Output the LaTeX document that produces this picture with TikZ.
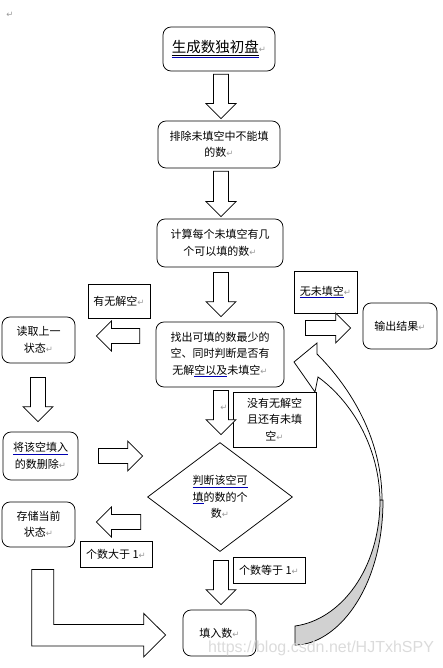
\documentclass[tikz,border=0pt]{standalone}
\usepackage{fontspec}
\setmainfont{Noto Sans CJK SC}
\newfontfamily\retfont{DejaVu Sans}
\newfontfamily\wmfont{Liberation Sans}
\usetikzlibrary{calc,shapes.geometric}

% Word paragraph mark and blue check line
\newcommand{\retmark}{{\retfont\fontsize{8.5}{8.5}\selectfont\textcolor{black!40}{↵}}}
\newcommand{\chk}[1]{\textcolor{blue!70!black}{\underline{\textcolor{black}{#1}}}}

% hollow block arrow from tail #1 to tip #2
\newcommand{\fatarrow}[2]{%
  \coordinate (fa-t) at #1;
  \coordinate (fa-p) at #2;
  \coordinate (fa-h) at ($(fa-p)!15pt!(fa-t)$);
  \filldraw[blockarrow] ($(fa-t)!7.5pt!90:(fa-p)$) -- ($(fa-h)!7.5pt!90:(fa-p)$)
    -- ($(fa-h)!15pt!90:(fa-p)$) -- (fa-p) -- ($(fa-h)!15pt!-90:(fa-p)$)
    -- ($(fa-h)!7.5pt!-90:(fa-p)$) -- ($(fa-t)!7.5pt!-90:(fa-p)$) -- cycle;
}

\tikzset{
  procbox/.style={draw, rounded corners=8pt, line width=0.75pt, align=center,
    font=\fontsize{11}{16.5}\selectfont, inner sep=1pt},
  tagbox/.style={draw, line width=0.75pt, align=center,
    font=\fontsize{11}{16.5}\selectfont, inner sep=1pt},
  blockarrow/.style={draw=black, fill=white, line width=0.75pt, line join=miter},
}

\begin{document}
\begin{tikzpicture}[x=1pt, y=-1pt]
  \useasboundingbox (0,0) rectangle (442,668);
  \node (mark) at (10,15) {\retmark};

  % main column
  \node[procbox, minimum width=112pt, minimum height=44pt, font=\fontsize{14.5}{16}\selectfont]
    (init) at (219,49) {\chk{\underline{生成数独初盘}}\retmark};
  \node[procbox, minimum width=122pt, minimum height=47pt] (prune) at (219,144.5)
    {排除未填空中不能填\\的数\retmark};
  \node[procbox, minimum width=126pt, minimum height=48pt] (count) at (220,243)
    {计算每个未填空有几\\个可以填的数\retmark};
  \node[procbox, minimum width=128pt, minimum height=65pt] (find) at (220,354.5)
    {找出可填的数最少的\\空、同时判断是否有\\无解\chk{空以及}未填空\retmark};
  \node[draw, diamond, aspect=1.33, inner sep=0pt, line width=0.75pt, align=center,
    font=\fontsize{11}{16.5}\selectfont, minimum width=145pt, minimum height=109pt]
    (judge) at (220,497) {\chk{判断该空可}\\\chk{填}的数的个\\数\retmark};
  \node[procbox, minimum width=73pt, minimum height=46pt] (fill) at (219.5,633)
    {填入数\retmark};

  % left column
  \node[procbox, minimum width=73pt, minimum height=46pt] (back) at (38.5,340)
    {读取上一\\状态\retmark};
  \node[procbox, minimum width=75pt, minimum height=48pt] (del) at (40.5,456)
    {\chk{将该空填入}\\的数删除\retmark};
  \node[procbox, minimum width=73pt, minimum height=45pt] (save) at (38.5,524.5)
    {存储当前\\状态\retmark};

  % right side
  \node[procbox, minimum width=74pt, minimum height=46pt] (out) at (400,326)
    {输出结果\retmark};

  % condition labels
  \node[tagbox, minimum width=62pt, minimum height=34pt] (stuck) at (119,301) {有无解空\retmark};
  \node[tagbox, minimum width=63pt, minimum height=42pt] (done) at (325.5,292) {\chk{无未填空}\retmark};
  \node[tagbox, minimum width=83pt, minimum height=55pt] (cond) at (274.5,419.5)
    {没有无解空\\且还有未填\\空\retmark};
  \node[tagbox, minimum width=72pt, minimum height=26pt] (more) at (116,554) {个数大于 1\retmark};
  \node[tagbox, minimum width=72pt, minimum height=26pt] (one) at (269,570) {个数等于 1\retmark};

  % block arrows
  \fatarrow{($(init.south)+(2,3)$)}{($(prune.north)+(2,-2)$)}
  \fatarrow{($(prune.south)+(2,3)$)}{($(count.north)+(1,-2)$)}
  \fatarrow{($(count.south)+(1,5)$)}{($(find.north)+(1,-5)$)}
  \fatarrow{($(find.west)+(-16,-18.5)$)}{($(back.east)+(21,-4)$)}
  \fatarrow{($(back.south)+(-0.5,14)$)}{($(del.north)+(-2.5,-10)$)}
  \fatarrow{($(del.east)+(20,0)$)}{($(judge.west)+(-4.5,-41)$)}
  \fatarrow{($(find.south)+(1,3)$)}{($(judge.north)+(1,-7.5)$)}
  \fatarrow{($(find.east)+(21,-26.5)$)}{($(out.west)+(-12,2)$)}
  \fatarrow{($(judge.west)+(-6.5,25)$)}{($(save.east)+(21,-2.5)$)}
  \fatarrow{($(judge.south)+(1,8.5)$)}{($(fill.north)+(1.5,-5)$)}
  \node (mark2) at (224,408) {\retmark};

  % bent arrow from save to fill
  \filldraw[blockarrow] ($(save.south west)+(30,22)$) -- ++(22,0) -- ++(0,55) -- ++(90,0)
    -- ++(0,-11) -- ($(fill.west)+(-17,2)$) -- ++(-22,22) -- ++(0,-11) -- ++(-112,0) -- cycle;

  % curved arrow from fill back up to find
  \filldraw[blockarrow, fill=black!18] (380,500) .. controls (380,570) and (340,620) .. (295,626)
    -- (295,645) .. controls (336,645) and (383,590) .. (383,500) -- cycle;
  \filldraw[blockarrow] (294,362) -- (317,343) -- (317,354) .. controls (352,389) and (382,440) .. (382,500)
    -- (380,500) .. controls (379,445) and (350,400) .. (318,377) -- (315,392) -- cycle;

  % watermark
  \node[text=black!14, font=\wmfont\fontsize{16}{16}\selectfont] (wm) at (321,648)
    {https://blog.csdn.net/HJTxhSPY};
\end{tikzpicture}
\end{document}
